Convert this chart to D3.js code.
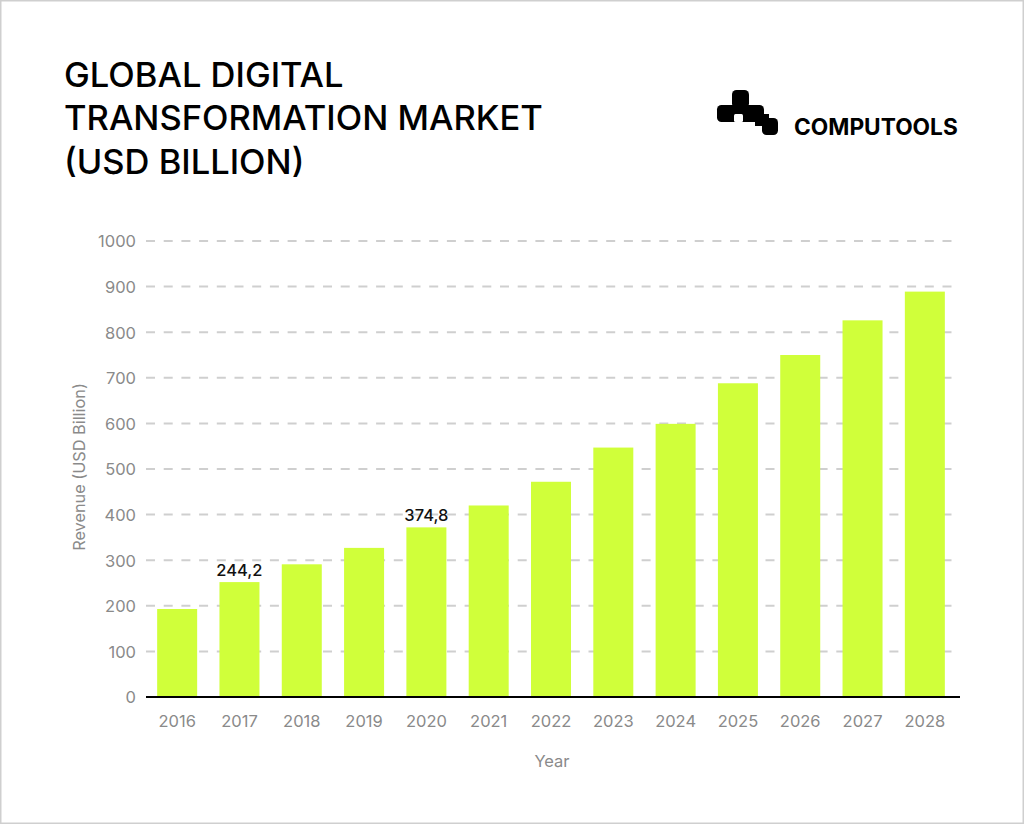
<!DOCTYPE html>
<html>
<head>
<meta charset="utf-8">
<script src="https://cdn.jsdelivr.net/npm/d3@7"></script>
<style>
  html, body { margin: 0; padding: 0; background: #fff; }
  svg { display: block; }
  text { font-family: Inter, "Noto Sans", sans-serif; }
</style>
</head>
<body>
<svg id="chart" width="1024" height="824"></svg>
<script>
const years = ["2016","2017","2018","2019","2020","2021","2022","2023","2024","2025","2026","2027","2028"];
const revenue = [193, 252, 291, 327, 372, 420, 472, 547, 599, 688, 750, 826, 889];
const labelYears = ["2017", "2020"];
const labelTexts = ["244,2", "374,8"];
const yTicks = [0, 100, 200, 300, 400, 500, 600, 700, 800, 900, 1000];
const titleLines = ["GLOBAL DIGITAL", "TRANSFORMATION MARKET", "(USD BILLION)"];
const brand = "COMPUTOOLS";
const yTitle = "Revenue (USD Billion)";
const xTitle = "Year";

const svg = d3.select("#chart");
const W = 1024, H = 824;

// frame
svg.append("rect").attr("x", 0.75).attr("y", 0.75).attr("width", W - 1.5).attr("height", H - 1.5)
  .attr("fill", "#fff").attr("stroke", "#cfcfcf").attr("stroke-width", 1.5);

// title
svg.append("g").selectAll("text").data(titleLines).join("text")
  .attr("x", 64).attr("y", (d, i) => 87 + i * 43.3)
  .attr("font-size", 34.5).attr("font-weight", 500).attr("fill", "#000")
  .text(d => d);

// logo (pixel mark)
const logo = svg.append("g").attr("transform", "translate(717,90)");
const logoBlocks = [
  {x: 15, y: 0, w: 17, h: 18, r: 4.5, c: "#000"},
  {x: 0, y: 15, w: 47, h: 17, r: 4.5, c: "#000"},
  {x: 38, y: 24, w: 14, h: 12, r: 0, c: "#000"},
  {x: 45, y: 28, w: 16, h: 17, r: 4.5, c: "#000"},
  {x: 17, y: 24, w: 9, h: 8, r: 1.5, c: "#fff"}
];
logo.selectAll("rect").data(logoBlocks).join("rect")
  .attr("x", d => d.x).attr("y", d => d.y).attr("width", d => d.w).attr("height", d => d.h)
  .attr("rx", d => d.r).attr("fill", d => d.c);
svg.append("text").attr("x", 794).attr("y", 135).attr("font-size", 22.7).attr("font-weight", 700)
  .attr("fill", "#000").text(brand);

// scales
const x = d3.scaleBand().domain(years).range([146, 956]).paddingInner(0.358).paddingOuter(0.179);
const y = d3.scaleLinear().domain([0, 1000]).range([697, 241]);

// grid
svg.append("g").selectAll("line").data(yTicks.filter(t => t > 0)).join("line")
  .attr("x1", 146).attr("x2", 960)
  .attr("y1", d => y(d)).attr("y2", d => y(d))
  .attr("stroke", "#cfcfcf").attr("stroke-width", 2).attr("stroke-dasharray", "9,8.7");

// y axis labels
const yAxis = d3.axisLeft(y).tickValues(yTicks).tickSize(0).tickPadding(0).tickFormat(d3.format("d"));
const gy = svg.append("g").attr("transform", "translate(136,0)").call(yAxis);
gy.select(".domain").remove();
gy.selectAll("text").attr("font-size", 16.5).attr("fill", "#8a8a8a")
  .attr("font-family", "Inter, sans-serif").attr("dy", "0.36em");

// bars
svg.append("g").selectAll("rect").data(years).join("rect")
  .attr("x", d => x(d)).attr("width", x.bandwidth())
  .attr("y", (d, i) => y(revenue[i])).attr("height", (d, i) => y(0) - y(revenue[i]))
  .attr("fill", "#d0ff3a");

// x axis
const xAxis = d3.axisBottom(x).tickSize(0).tickPadding(0);
const gx = svg.append("g").attr("transform", "translate(0,697)").call(xAxis);
gx.select(".domain").remove();
gx.selectAll("text").attr("font-size", 16.5).attr("fill", "#8a8a8a")
  .attr("font-family", "Inter, sans-serif").attr("dy", null).attr("y", 30);
svg.append("line").attr("x1", 146).attr("x2", 960).attr("y1", 697).attr("y2", 697)
  .attr("stroke", "#000").attr("stroke-width", 2.2);

// value labels
svg.append("g").selectAll("text").data(labelYears).join("text")
  .attr("x", d => x(d) + x.bandwidth() / 2)
  .attr("y", d => y(revenue[years.indexOf(d)]) - 6)
  .attr("text-anchor", "middle").attr("font-size", 16.5).attr("font-weight", 500).attr("fill", "#111")
  .text((d, i) => labelTexts[i]);

// axis titles
svg.append("text").attr("transform", "translate(85,467) rotate(-90)")
  .attr("text-anchor", "middle").attr("font-size", 16.3).attr("fill", "#8a8a8a").text(yTitle);
svg.append("text").attr("x", 552).attr("y", 767).attr("text-anchor", "middle")
  .attr("font-size", 16.5).attr("fill", "#8a8a8a").text(xTitle);
</script>
</body>
</html>
